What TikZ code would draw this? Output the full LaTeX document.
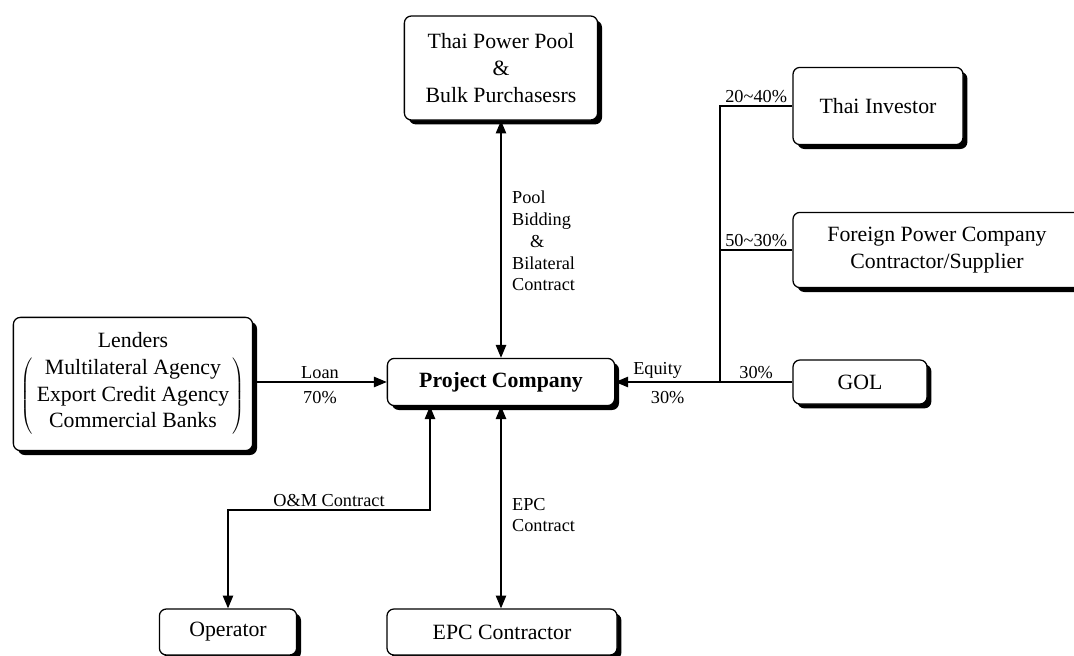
\documentclass[tikz,border=0pt]{standalone}
\usepackage{fontspec}
\setmainfont{Liberation Serif}
\usetikzlibrary{positioning,arrows.meta,shadows}

\begin{document}
\begin{tikzpicture}[
    x=0.025cm, y=-0.025cm,
    font=\fontsize{15.5}{19}\selectfont,
    box/.style={
        draw,
        rounded corners=5pt,
        line width=0.9pt,
        fill=white,
        inner sep=0pt,
        align=center,
        drop shadow={shadow xshift=0.11cm, shadow yshift=-0.11cm, fill=black, opacity=1}
    },
    lbl/.style={font=\fontsize{13}{15.5}\selectfont, inner sep=2pt},
    arrow/.style={-{Triangle[length=0.32cm, width=0.26cm]}, line width=0.9pt},
    biarrow/.style={{Triangle[length=0.32cm, width=0.26cm]}-{Triangle[length=0.32cm, width=0.26cm]}, line width=0.9pt},
    plain/.style={line width=0.9pt}
]
\useasboundingbox (0,0) rectangle (1074,656);

% boxes
\node[box, minimum width=4.83cm, minimum height=2.6cm] (pool) at (501,68)
    {Thai Power Pool\\\&\\Bulk Purchasesrs};
\node[box, minimum width=5.68cm, minimum height=1.18cm] (project) at (501,382)
    {\textbf{Project Company}};
\node[box, minimum width=5.98cm, minimum height=3.33cm] (lenders) at (133,384)
    {Lenders\\[5pt]
     $\left(\begin{tabular}{@{\,}c@{\,}}Multilateral Agency\\Export Credit Agency\\Commercial Banks\end{tabular}\right)$};
\node[box, minimum width=4.25cm, minimum height=1.93cm] (thai) at (878,106) {Thai Investor};
\node[box, minimum width=7.3cm, minimum height=1.88cm] (foreign) at (939,250)
    {\hspace*{-0.1cm}Foreign Power Company\\\hspace*{-0.1cm}Contractor/Supplier};
\node[box, minimum width=3.35cm, minimum height=1.1cm] (gol) at (860,382) {GOL};
\node[box, minimum width=3.43cm, minimum height=1.15cm] (operator) at (228,632) {Operator};
\node[box, minimum width=5.75cm, minimum height=1.15cm] (epc) at (502,632) {EPC Contractor};

% turning points
\coordinate (trunk) at (720,382);
\coordinate (omturn) at (430,510);

% connectors
\draw[biarrow] (pool.south) -- (project.north);
\node[lbl, anchor=west, align=left] (poollbl) at (509,241)
    {Pool\\Bidding\\\hspace*{0.45cm}\&\\Bilateral\\Contract};

\draw[arrow] (lenders.east |- project.west) -- node[lbl, above] {Loan} node[lbl, below=4pt] {70\%} (project.west);

\draw[arrow] (gol.west) -- node[lbl, above] {30\%} (trunk)
    -- node[lbl, above, xshift=-0.25cm] {Equity} node[lbl, below=4pt] {30\%} (project.east);
\draw[plain] (trunk) |- node[lbl, above, pos=0.75] {20\textasciitilde40\%} (thai.west);
\draw[plain] (trunk |- foreign.west) -- node[lbl, above] {50\textasciitilde30\%} (foreign.west);

\draw[biarrow] (project.south -| omturn) -- (omturn) -| node[lbl, above, pos=0.25] {O\&M Contract} (operator.north);

\draw[biarrow] (epc.north -| project.south) -- (project.south);
\node[lbl, anchor=west, align=left] (epclbl) at (509,515) {EPC\\Contract};

\end{tikzpicture}
\end{document}
